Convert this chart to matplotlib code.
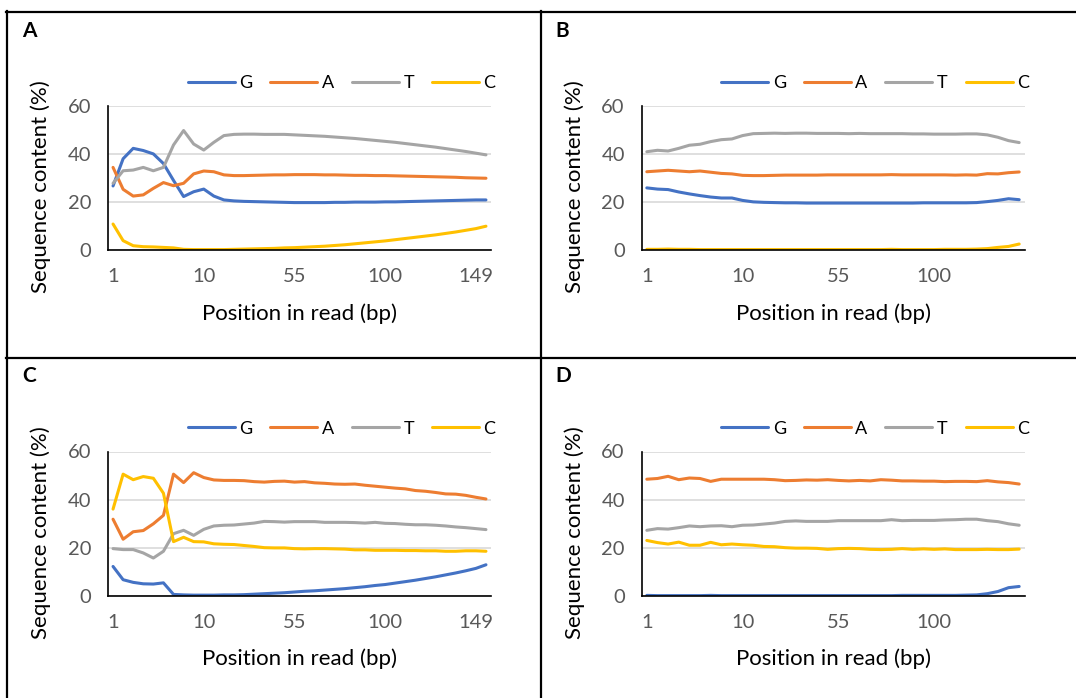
import matplotlib.pyplot as plt
from matplotlib.lines import Line2D

plt.rcParams['font.family'] = ['Lato', 'DejaVu Sans']

# position bins (x categories)
pos_151 = ['1', '2', '3', '4', '5', '6', '7', '8', '9', '10', '15', '20', '25',
           '30', '35', '40', '45', '50', '55', '60', '65', '70', '75', '80', '85',
           '90', '95', '100', '105', '110', '115', '120', '125', '130', '135',
           '140', '149', '151']
pos_141 = ['1', '2', '3', '4', '5', '6', '7', '8', '9', '10', '15', '20', '25',
           '30', '35', '40', '45', '50', '55', '60', '65', '70', '75', '80', '85',
           '90', '95', '100', '105', '110', '115', '120', '125', '130', '135',
           '140']

# panel A
a_G = [26.7, 38.0, 42.3, 41.4, 40.0, 36.0, 29.0, 22.3, 24.3, 25.4, 22.5, 20.9, 20.5,
       20.3, 20.2, 20.1, 20.0, 19.9, 19.8, 19.8, 19.8, 19.8, 19.9, 19.9, 20.0, 20.0,
       20.0, 20.1, 20.1, 20.2, 20.3, 20.4, 20.5, 20.6, 20.7, 20.8, 20.9, 20.9]
a_A = [34.4, 25.3, 22.5, 23.0, 25.7, 28.1, 26.8, 27.8, 31.7, 32.9, 32.6, 31.3, 31.0,
       31.0, 31.1, 31.2, 31.3, 31.3, 31.4, 31.4, 31.4, 31.3, 31.3, 31.2, 31.1, 31.1,
       31.0, 31.0, 30.9, 30.8, 30.7, 30.6, 30.5, 30.4, 30.3, 30.1, 30.0, 29.9]
a_T = [27.8, 33.0, 33.3, 34.4, 33.0, 34.4, 43.7, 49.7, 44.1, 41.6, 44.8, 47.6, 48.1,
       48.2, 48.2, 48.1, 48.1, 48.1, 47.9, 47.7, 47.5, 47.3, 47.0, 46.7, 46.4, 46.0,
       45.6, 45.2, 44.8, 44.3, 43.8, 43.3, 42.8, 42.2, 41.6, 41.0, 40.3, 39.6]
a_C = [10.9, 4.0, 1.9, 1.5, 1.4, 1.2, 1.0, 0.4, 0.3, 0.3, 0.3, 0.3, 0.4, 0.5, 0.6,
       0.7, 0.8, 1.0, 1.1, 1.3, 1.5, 1.7, 2.0, 2.3, 2.7, 3.1, 3.5, 3.9, 4.4, 4.9, 5.4,
       5.9, 6.4, 7.0, 7.6, 8.3, 9.0, 10.0]

# panel B
b_G = [25.9, 25.4, 25.2, 24.2, 23.4, 22.7, 22.1, 21.7, 21.7, 20.7, 20.1, 19.9, 19.8,
       19.7, 19.7, 19.6, 19.6, 19.6, 19.6, 19.6, 19.6, 19.6, 19.6, 19.6, 19.6, 19.6,
       19.7, 19.7, 19.7, 19.7, 19.7, 19.8, 20.2, 20.7, 21.4, 21.0]
b_A = [32.6, 32.9, 33.2, 32.9, 32.6, 32.9, 32.4, 31.9, 31.7, 31.1, 31.0, 31.0, 31.1,
       31.2, 31.2, 31.2, 31.2, 31.3, 31.3, 31.3, 31.3, 31.3, 31.3, 31.4, 31.3, 31.3,
       31.3, 31.3, 31.3, 31.2, 31.3, 31.2, 31.8, 31.7, 32.2, 32.5]
b_T = [40.9, 41.5, 41.2, 42.3, 43.6, 44.0, 45.1, 45.9, 46.2, 47.6, 48.4, 48.5, 48.6,
       48.5, 48.6, 48.6, 48.5, 48.5, 48.5, 48.4, 48.5, 48.4, 48.4, 48.4, 48.4, 48.3,
       48.3, 48.2, 48.2, 48.2, 48.3, 48.3, 47.9, 46.9, 45.5, 44.7]
b_C = [0.4, 0.4, 0.5, 0.4, 0.4, 0.3, 0.3, 0.3, 0.3, 0.3, 0.3, 0.3, 0.3, 0.3, 0.3,
       0.3, 0.3, 0.3, 0.3, 0.3, 0.3, 0.3, 0.3, 0.4, 0.3, 0.3, 0.3, 0.3, 0.4, 0.4,
       0.4, 0.5, 0.7, 1.2, 1.6, 2.6]

# panel C
c_G = [12.3, 6.8, 5.7, 5.1, 5.0, 5.5, 0.7, 0.5, 0.4, 0.4, 0.4, 0.5, 0.5, 0.6, 0.8,
       1.0, 1.2, 1.4, 1.7, 2.0, 2.2, 2.5, 2.8, 3.1, 3.5, 3.9, 4.4, 4.8, 5.4, 6.0, 6.6,
       7.3, 8.0, 8.8, 9.6, 10.5, 11.5, 13.0]
c_A = [31.9, 23.6, 26.7, 27.2, 30.0, 33.5, 50.6, 47.1, 51.2, 49.2, 48.2, 48.0, 48.0,
       47.9, 47.5, 47.3, 47.6, 47.7, 47.3, 47.5, 47.0, 46.8, 46.5, 46.4, 46.5, 46.0,
       45.6, 45.2, 44.8, 44.5, 43.8, 43.5, 43.0, 42.4, 42.3, 41.8, 41.0, 40.3]
c_T = [19.7, 19.3, 19.3, 17.9, 15.8, 18.6, 25.9, 27.3, 25.2, 27.7, 29.1, 29.4, 29.5,
       29.9, 30.3, 31.0, 30.9, 30.7, 30.9, 30.9, 30.9, 30.6, 30.6, 30.6, 30.5, 30.3,
       30.6, 30.2, 30.1, 29.8, 29.6, 29.6, 29.4, 29.1, 28.7, 28.4, 28.0, 27.6]
c_C = [36.1, 50.6, 48.3, 49.6, 48.9, 42.7, 22.6, 24.4, 22.6, 22.5, 21.7, 21.5, 21.4,
       21.0, 20.6, 20.1, 20.0, 20.0, 19.7, 19.6, 19.7, 19.7, 19.6, 19.5, 19.2, 19.2,
       19.0, 19.0, 19.0, 18.9, 18.9, 18.8, 18.8, 18.6, 18.6, 18.8, 18.8, 18.6]

# panel D
d_G = [0.3, 0.2, 0.2, 0.2, 0.2, 0.2, 0.3, 0.2, 0.2, 0.2, 0.2, 0.2, 0.2, 0.2, 0.2,
       0.2, 0.2, 0.2, 0.2, 0.2, 0.2, 0.2, 0.2, 0.2, 0.3, 0.3, 0.3, 0.3, 0.3, 0.3,
       0.4, 0.5, 1.0, 1.9, 3.5, 4.0]
d_A = [48.5, 48.8, 49.7, 48.3, 49.0, 48.8, 47.6, 48.5, 48.5, 48.5, 48.5, 48.5, 48.3,
       47.9, 48.0, 48.2, 48.1, 48.3, 48.0, 47.8, 48.0, 47.8, 48.3, 48.1, 47.8, 47.8,
       47.7, 47.7, 47.5, 47.6, 47.6, 47.5, 47.9, 47.4, 47.1, 46.5]
d_T = [27.3, 28.0, 27.8, 28.4, 29.1, 28.8, 29.1, 29.2, 28.8, 29.4, 29.5, 29.9, 30.3,
       31.0, 31.2, 31.0, 31.0, 31.0, 31.3, 31.3, 31.3, 31.3, 31.3, 31.7, 31.3, 31.4,
       31.4, 31.4, 31.6, 31.7, 31.9, 31.9, 31.3, 30.9, 30.0, 29.4]
d_C = [23.1, 22.2, 21.6, 22.4, 21.1, 21.1, 22.3, 21.3, 21.6, 21.3, 21.1, 20.6, 20.5,
       20.1, 19.9, 19.9, 19.8, 19.4, 19.7, 19.8, 19.7, 19.4, 19.3, 19.4, 19.7, 19.4,
       19.6, 19.4, 19.6, 19.3, 19.3, 19.3, 19.4, 19.3, 19.3, 19.5]

colors = {'G': '#4472C4', 'A': '#ED7D31', 'T': '#A5A5A5', 'C': '#FFC000'}
W, H = 1076, 698


def fx(x):
    return x / W


def fy(y):
    return 1 - y / H


fig = plt.figure(figsize=(W / 100, H / 100), dpi=100)


def panel(left, top, cats, series, letter):
    # left/top: pixel position of the cell's plot area
    right = left + 383
    bottom = top + 144.6
    ax = fig.add_axes([fx(left), fy(bottom), (right - left) / W, 144.6 / H])
    x = range(len(cats))
    for name, vals in series:
        ax.plot(x, vals, color=colors[name], lw=2.2, label=name,
                solid_joinstyle='round', solid_capstyle='round')
    ax.set_ylim(0, 60)
    ax.set_xlim(-0.5, len(cats) - 0.5)
    ax.set_yticks([0, 20, 40, 60])
    ticks = list(range(0, len(cats), 9))
    ax.set_xticks(ticks)
    ax.set_xticklabels([cats[i] for i in ticks])
    ax.tick_params(length=0, labelsize=14.5, labelcolor='#595959')
    ax.tick_params(axis='y', pad=12)
    ax.tick_params(axis='x', pad=13)
    ax.grid(axis='y', color='#D9D9D9', lw=1.2)
    ax.set_axisbelow(True)
    for s in ['top', 'right']:
        ax.spines[s].set_visible(False)
    for s in ['left', 'bottom']:
        ax.spines[s].set_color('black')
        ax.spines[s].set_linewidth(1.2)
    ax.legend(loc='center', bbox_to_anchor=(0.61, 1.157), ncol=4, frameon=False,
              fontsize=13, handlelength=2.6, handletextpad=0.25, columnspacing=1.0,
              borderaxespad=0)
    cx = (left + right) / 2
    fig.text(fx(cx), fy(bottom + 63), 'Position in read (bp)', ha='center',
             va='center', fontsize=16)
    fig.text(fx(left - 67), fy(top + 81), 'Sequence content (%)', rotation=90,
             ha='center', va='center', fontsize=16)
    fig.text(fx(left - 86), fy(top - 75), letter, ha='left', va='center',
             fontsize=15, fontweight='bold')
    return ax


panel(108, 105.7, pos_151, [('G', a_G), ('A', a_A), ('T', a_T), ('C', a_C)], 'A')
panel(641.5, 105.7, pos_141, [('G', b_G), ('A', b_A), ('T', b_T), ('C', b_C)], 'B')
panel(108, 451.5, pos_151, [('G', c_G), ('A', c_A), ('T', c_T), ('C', c_C)], 'C')
panel(641.5, 451.5, pos_141, [('G', d_G), ('A', d_A), ('T', d_T), ('C', d_C)], 'D')

# table borders
border = dict(color='black', lw=1.6, transform=fig.transFigure)
fig.add_artist(Line2D([fx(7), fx(7)], [fy(11), 0], **border))
fig.add_artist(Line2D([fx(6), 1], [fy(12), fy(12)], **border))
fig.add_artist(Line2D([fx(541), fx(541)], [fy(11), 0], **border))
fig.add_artist(Line2D([fx(6), 1], [fy(357.5), fy(357.5)], **border))

fig.savefig('out.png', dpi=100)
